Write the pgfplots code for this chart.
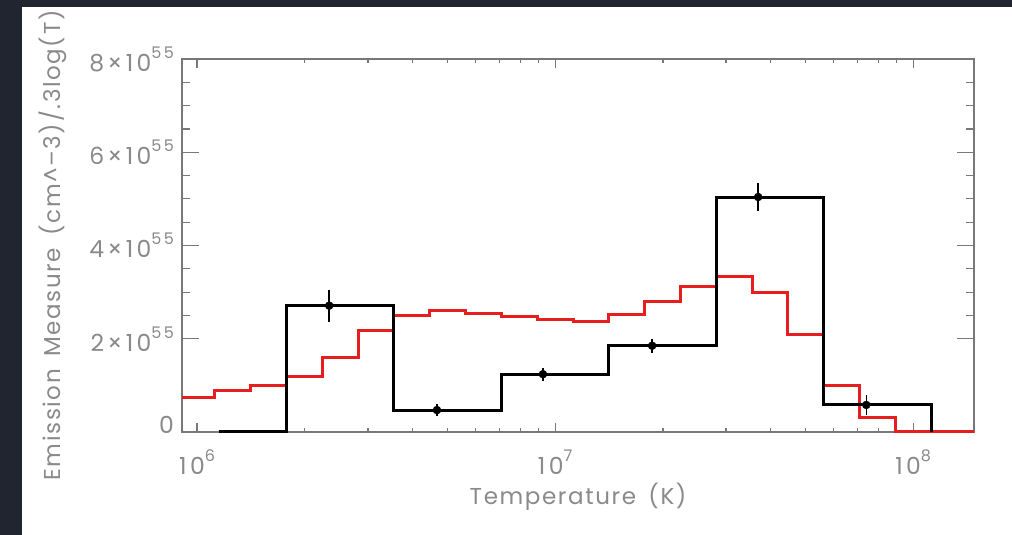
\documentclass[border=0pt]{standalone}
\usepackage{pgfplots}
\pgfplotsset{compat=1.18}
\usepackage{fontspec}
\setmainfont{Poppins}[LetterSpace=7, WordSpace=1.6]
\newfontfamily\tickfam{Poppins}[LetterSpace=14]
\definecolor{frame}{RGB}{33,37,48}
\definecolor{axgray}{RGB}{120,120,120}
\definecolor{txtgray}{RGB}{138,138,138}
\definecolor{histred}{RGB}{232,30,30}
\newcommand{\lblfont}{\fontsize{23}{27}\selectfont}
\newcommand{\tickfont}{\tickfam\fontsize{23.5}{27}\selectfont}
\newcommand{\sps}[1]{\raisebox{0.55em}{\fontsize{16}{17}\selectfont #1}}
\begin{document}
\begin{tikzpicture}[x=1pt,y=1pt]
\fill[frame] (0,0) rectangle (1012,535);
\fill[white] (22,0) rectangle (1012,528);
\path[use as bounding box] (0,0) rectangle (1012,535);
% axis carrying the y ticks (longer ticks)
\begin{axis}[
  at={(182pt,103pt)}, anchor=south west,
  scale only axis, width=792pt, height=373pt,
  xmode=log, xmin=9.078e5, xmax=1.479e8,
  ymin=0, ymax=8e55,
  scaled y ticks=false,
  axis line style={axgray, line width=1.4pt},
  every tick/.style={axgray, line width=1.2pt},
  tick label style={font=\tickfont, text=txtgray},
  major tick length=17pt, minor tick length=8pt,
  xtick=\empty,
  ytick={2e55,4e55,6e55,8e55},
  yticklabels={2×10\sps{55},4×10\sps{55},6×10\sps{55},8×10\sps{55}},
  extra y ticks={0},
  extra y tick labels={0},
  extra y tick style={yticklabel style={yshift=7pt}},
  minor y tick num=3,
  yticklabel style={anchor=east, inner sep=0pt, xshift=-8pt},
  ylabel={Emission Measure (cm\textasciicircum{}–3)/.3log(T)},
  every axis y label/.style={at={(axis description cs:-0.163,0.5)}, anchor=center, rotate=90, font=\lblfont, text=txtgray},
]
\addplot[draw=none] coordinates {(1e6,0) (1e8,1e55)};
\end{axis}
% main axis: x ticks and data
\begin{axis}[
  at={(182pt,103pt)}, anchor=south west,
  scale only axis, width=792pt, height=373pt,
  xmode=log, xmin=9.078e5, xmax=1.479e8,
  ymin=0, ymax=8e55,
  clip=false,
  axis line style={axgray, line width=1.4pt},
  every tick/.style={axgray, line width=1.2pt},
  tick label style={font=\tickfont, text=txtgray},
  major tick length=9pt, minor tick length=4pt,
  ytick=\empty,
  xtick={1e6,1e7,1e8},
  xticklabels={10\sps{6},10\sps{7},10\sps{8}},
  minor xtick={2e6,3e6,4e6,5e6,6e6,7e6,8e6,9e6,2e7,3e7,4e7,5e7,6e7,7e7,8e7,9e7},
  xticklabel style={anchor=center, yshift=-30pt},
  xlabel={Temperature (K)},
  every axis x label/.style={at={(axis description cs:0.5,-0.174)}, anchor=center, font=\lblfont, text=txtgray},
]
% red model histogram (values at left bin edges)
\addplot[const plot, histred, line width=3pt] coordinates {
(9.078e5,0.75e55) (1.1220e6,0.88e55) (1.4125e6,0.99e55) (1.7783e6,1.20e55)
(2.2387e6,1.59e55) (2.8184e6,2.17e55) (3.5481e6,2.49e55) (4.4668e6,2.60e55)
(5.6234e6,2.55e55) (7.0795e6,2.47e55) (8.9125e6,2.42e55) (1.1220e7,2.38e55)
(1.4125e7,2.53e55) (1.7783e7,2.80e55) (2.2387e7,3.12e55) (2.8184e7,3.33e55)
(3.5481e7,3.00e55) (4.4668e7,2.10e55) (5.6234e7,1.00e55) (7.0795e7,0.32e55)
(8.9125e7,0.02e55) (1.479e8,0.02e55)
};
% black histogram
\addplot[const plot, black, line width=3pt] coordinates {
(1.1482e6,0) (1.7783e6,2.71e55) (3.5481e6,0.47e55) (7.0795e6,1.24e55)
(1.4125e7,1.85e55) (2.8184e7,5.04e55) (5.6234e7,0.58e55) (1.1220e8,0)
};
% data points with error bars
\addplot[only marks, black, mark=*, mark size=4pt,
  error bars/.cd, y dir=both, y explicit,
  error bar style={black, line width=1.5pt},
  error mark=-,
  error mark options={black, line width=1.5pt, mark size=4pt}]
  table[x=x, y=y, y error=e] {
x y e
2.339e6 2.71e55 0.26e55
4.677e6 0.47e55 0.04e55
9.247e6 1.24e55 0.05e55
1.866e7 1.85e55 0.06e55
3.690e7 5.04e55 0.21e55
7.396e7 0.58e55 0.12e55
};
\end{axis}
\end{tikzpicture}
\end{document}
